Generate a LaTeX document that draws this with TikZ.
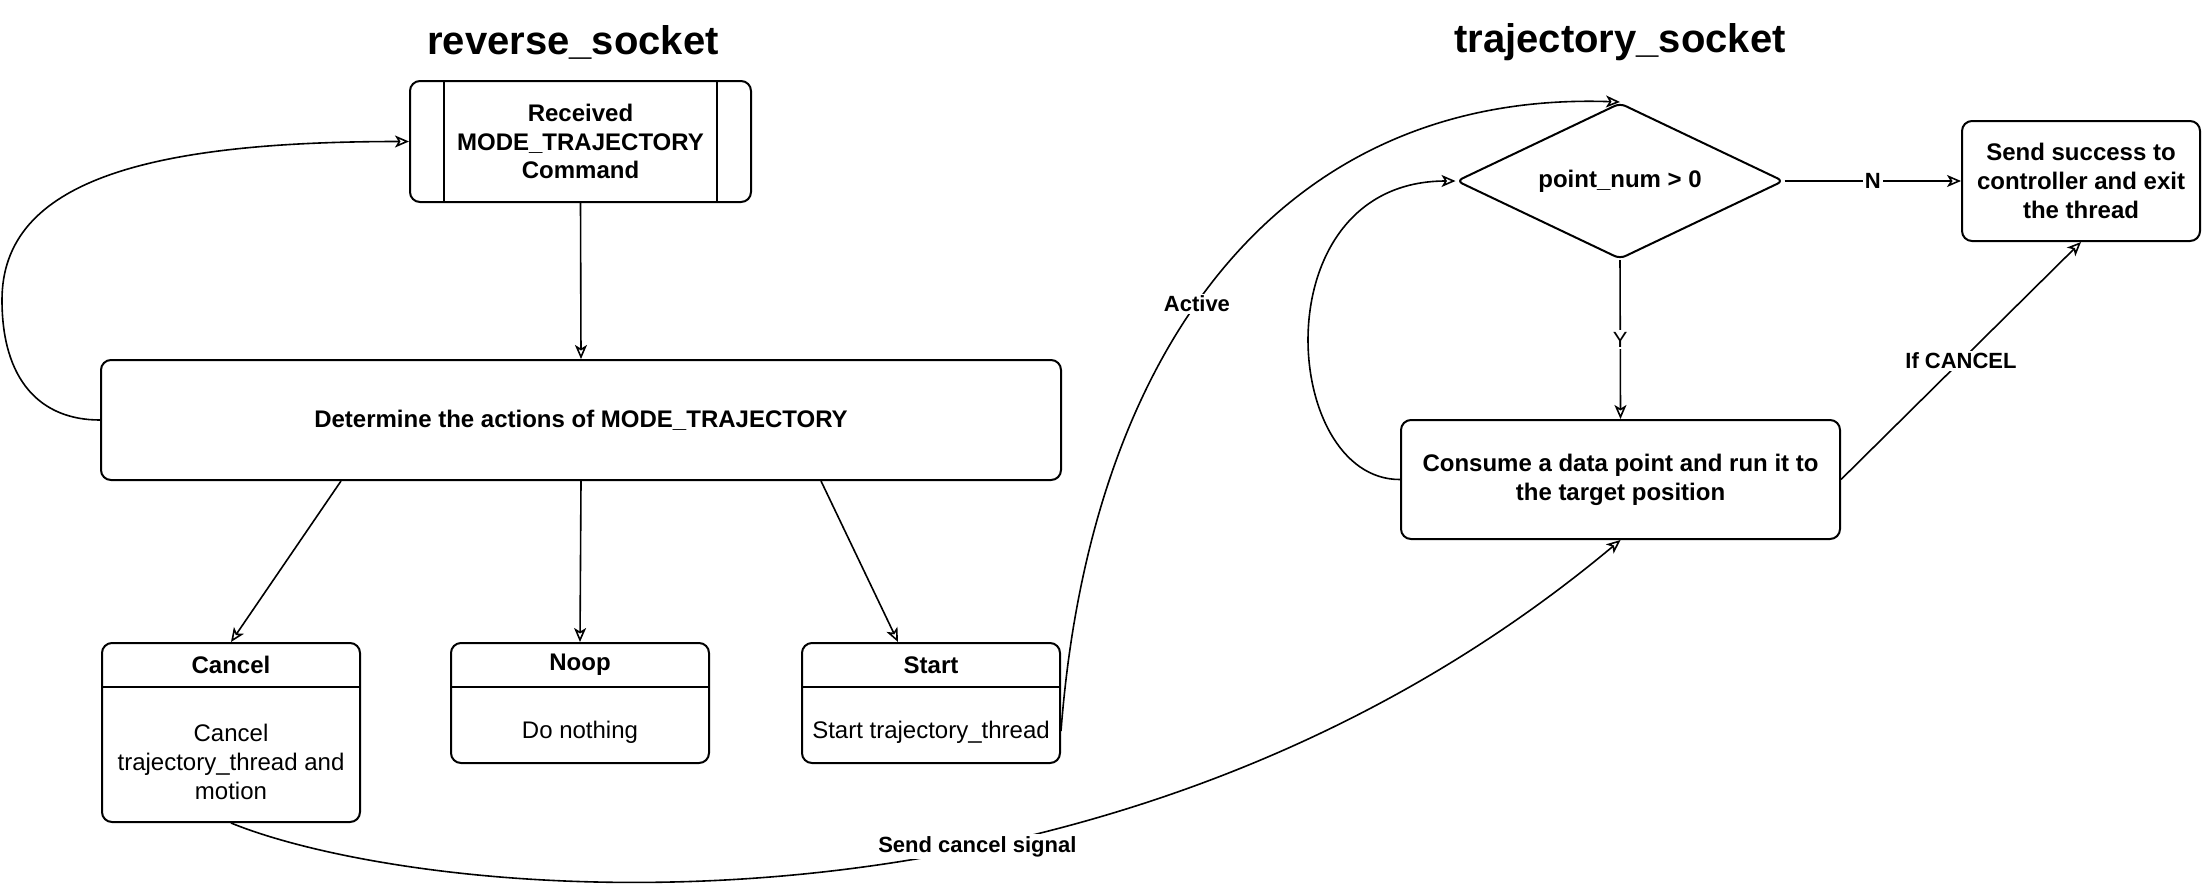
\documentclass[tikz,border=0pt]{standalone}
\usepackage{fontspec}
\setmainfont{Liberation Sans}
\usetikzlibrary{arrows.meta,shapes.geometric}
\tikzset{
  box/.style={draw, rounded corners=5pt, line width=1pt, align=center, inner sep=0pt,
    font=\bfseries\fontsize{12}{14.4}\selectfont},
  lane/.style={draw, rounded corners=5pt, line width=1pt, minimum width=129pt, anchor=north},
  title/.style={font=\bfseries\fontsize{20}{24}\selectfont},
  lbl/.style={fill=white, inner sep=1pt, font=\bfseries\fontsize{11}{13}\selectfont},
  arr/.style={-{Stealth[open,length=7pt,width=6pt,inset=1.8pt]}, line width=0.8pt},
}
\begin{document}
\begin{tikzpicture}[x=0.5pt,y=-0.5pt]
\useasboundingbox (0,0) rectangle (2204,884);
\node[title] (revtitle) at (573,42) {reverse\_socket};
\node[title] (trajtitle) at (1620,42) {trajectory\_socket};
% reverse socket side
\node[box, minimum width=170.5pt, minimum height=60.5pt] (rec) at (580.5,141.5) {Received\\MODE\_TRAJECTORY\\Command};
\draw[line width=0.6pt] ([xshift=17.5pt]rec.north west) -- ([xshift=17.5pt]rec.south west);
\draw[line width=0.6pt] ([xshift=-17.5pt]rec.north east) -- ([xshift=-17.5pt]rec.south east);
\node[box, minimum width=480pt, minimum height=60pt] (det) at (581,420) {Determine the actions of MODE\_TRAJECTORY};
\foreach \nm/\cx/\hh/\hd/\bd in {cancel/231/179/Cancel/{Cancel\\trajectory\_thread and\\motion},
    noop/580/120/Noop/{Do nothing}, start/931/120/Start/{Start trajectory\_thread}}{
  \node[lane, minimum height=\hh*0.5pt] (\nm) at (\cx,642) {};
  \draw[line width=1pt] ([yshift=-22.5pt]\nm.north west) -- ([yshift=-22.5pt]\nm.north east);
  \node[font=\bfseries\fontsize{12}{14.4}\selectfont] (\nm hd) at (\cx,665) {\hd};
  \node[align=center, font=\fontsize{12}{14.4}\selectfont] (\nm bd) at ({\cx},{695+(\hh-45)/2}) {\bd};
}
\draw[arr] (rec.south) -- (det.north);
\draw[arr] ([xshift=-120pt]det.south) -- (cancel.north);
\draw[arr] (det.south) -- (noop.north);
\draw[arr] ([xshift=120pt]det.south) -- ([xshift=-16.5pt]start.north);
\draw[arr] (det.west) .. controls (40,420) and (2,380) .. (2,300) .. controls (2,180) and (150,141.5) .. (rec.west);
% trajectory socket side
\node[box, diamond, aspect=2.1, rounded corners=3pt, minimum width=163.5pt, minimum height=78pt] (dia) at (1620,181) {point\_num > 0};
\node[box, minimum width=119pt, minimum height=60pt] (succ) at (2081,181) {Send success to\\controller and exit\\the thread};
\node[box, minimum width=219.5pt, minimum height=59.5pt] (cons) at (1620.5,479.5) {Consume a data point and run it to\\the target position};
\draw[arr] (dia.east) -- node[lbl] {N} (succ.west);
\draw[arr] (dia.south) -- node[lbl, font=\fontsize{11}{13}\selectfont] {Y} (cons.north);
\draw[arr] (cons.east) -- node[lbl] {If CANCEL} (succ.south);
\draw[arr] (cons.west) .. controls (1280,480) and (1260,181) .. (dia.west);
\draw[arr] ([yshift=-14pt]start.east) .. controls (1090,350) and (1280,90) .. node[lbl, pos=0.45] {Active} (dia.north);
\draw[arr] (cancel.south) .. controls (420,900) and (1100,975) .. node[lbl, pos=0.61] {Send cancel signal} (cons.south);
\end{tikzpicture}
\end{document}
